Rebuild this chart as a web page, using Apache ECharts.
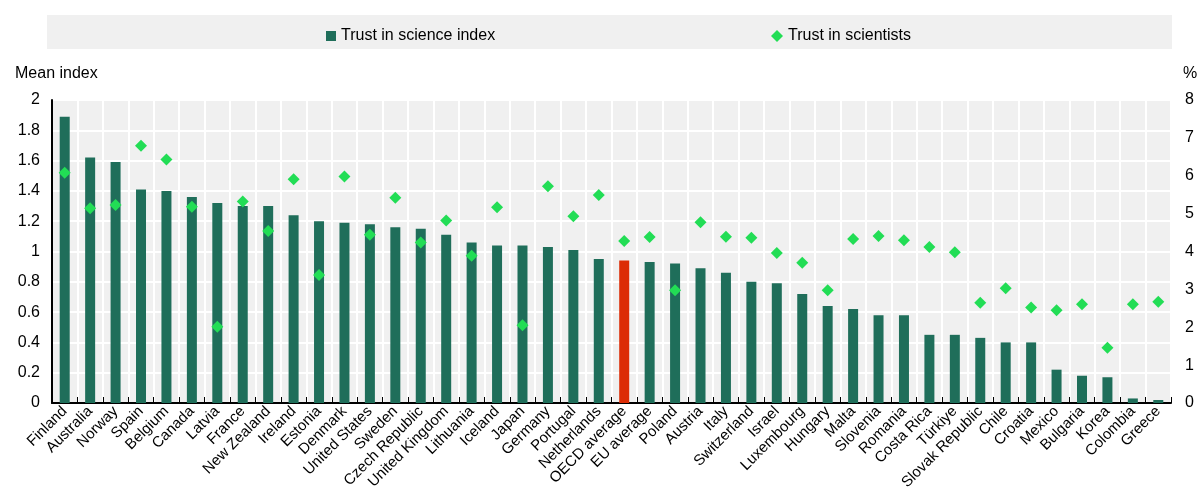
<!DOCTYPE html>
<html>
<head>
<meta charset="utf-8">
<script src="https://cdn.jsdelivr.net/npm/echarts@6/dist/echarts.min.js"></script>
<style>
  html, body { margin: 0; padding: 0; background: #fff; }
  #chart { width: 1199px; height: 501px; }
</style>
</head>
<body>
<div id="chart"></div>
<script>
// categories (countries)
var countries = ['Finland','Australia','Norway','Spain','Belgium','Canada','Latvia','France','New Zealand','Ireland',
  'Estonia','Denmark','United States','Sweden','Czech Republic','United Kingdom','Lithuania','Iceland','Japan','Germany',
  'Portugal','Netherlands','OECD average','EU average','Poland','Austria','Italy','Switzerland','Israel','Luxembourg',
  'Hungary','Malta','Slovenia','Romania','Costa Rica','Türkiye','Slovak Republic','Chile','Croatia','Mexico',
  'Bulgaria','Korea','Colombia','Greece'];
// Trust in science index (left axis, mean index)
var scienceIndex = [1.89,1.62,1.59,1.41,1.40,1.36,1.32,1.30,1.30,1.24,
  1.20,1.19,1.18,1.16,1.15,1.11,1.06,1.04,1.04,1.03,
  1.01,0.95,0.94,0.93,0.92,0.89,0.86,0.80,0.79,0.72,
  0.64,0.62,0.58,0.58,0.45,0.45,0.43,0.40,0.40,0.22,
  0.18,0.17,0.03,0.02];
// Trust in scientists (right axis, %)
var scientists = [6.08,5.14,5.23,6.79,6.43,5.18,2.01,5.32,4.54,5.91,
  3.38,5.98,4.44,5.42,4.24,4.82,3.89,5.17,2.05,5.72,
  4.93,5.49,4.28,4.38,2.98,4.77,4.39,4.36,3.96,3.70,
  2.98,4.33,4.41,4.30,4.12,3.98,2.65,3.03,2.52,2.45,
  2.61,1.46,2.61,2.67];

var barColor = '#1f6e5a';
var hiColor = '#dc2c05';
var dotColor = '#22dd55';

var barData = scienceIndex.map(function (v, i) {
  if (countries[i] === 'OECD average') {
    return { value: v, itemStyle: { color: hiColor } };
  }
  return v;
});

var chart = echarts.init(document.getElementById('chart'));
var option = {
  animation: false,
  textStyle: { fontFamily: 'Liberation Sans, Arial, sans-serif' },
  graphic: [
    { type: 'rect', left: 47, top: 15, shape: { width: 1125, height: 34 }, style: { fill: '#f0f0f0' }, z: -1 },
    { type: 'text', left: 15, top: 66, style: { text: 'Mean index', fontSize: 16, fill: '#000', fontFamily: 'Liberation Sans, Arial, sans-serif' } },
    { type: 'text', left: 1183, top: 66, style: { text: '%', fontSize: 16, fill: '#000', fontFamily: 'Liberation Sans, Arial, sans-serif' } }
  ],
  legend: [
    {
      data: [{ name: 'Trust in science index', icon: 'rect' }],
      left: 321, top: 23, itemWidth: 10, itemHeight: 10, itemGap: 6,
      textStyle: { fontSize: 16, color: '#000' }
    },
    {
      data: [{ name: 'Trust in scientists', icon: 'diamond' }],
      left: 766, top: 23, itemWidth: 12, itemHeight: 12, itemGap: 6,
      textStyle: { fontSize: 16, color: '#000' }
    }
  ],
  grid: {
    left: 52, right: 28, top: 100, bottom: 98,
    show: true, backgroundColor: '#f0f0f0', borderWidth: 0
  },
  xAxis: {
    type: 'category',
    data: countries,
    axisLine: { lineStyle: { color: '#000', width: 2 } },
    axisTick: { show: true, inside: true, length: 6, lineStyle: { color: '#000' } },
    axisLabel: { interval: 0, rotate: 45, fontSize: 15, color: '#000', margin: 6 },
    splitLine: { show: true, lineStyle: { color: '#fff', width: 2 } }
  },
  yAxis: [
    {
      type: 'value', min: 0, max: 2, interval: 0.2,
      axisLine: { show: true, lineStyle: { color: '#000', width: 2 } },
      axisTick: { show: false },
      axisLabel: { fontSize: 16, color: '#000', margin: 12 },
      splitLine: { show: true, lineStyle: { color: '#fff', width: 2 } }
    },
    {
      type: 'value', min: 0, max: 8, interval: 1,
      axisLine: { show: false },
      axisTick: { show: false },
      axisLabel: { fontSize: 16, color: '#000', margin: 14 },
      splitLine: { show: false }
    }
  ],
  series: [
    {
      name: 'Trust in science index',
      type: 'bar',
      data: barData,
      barWidth: 10,
      itemStyle: { color: barColor },
      z: 2
    },
    {
      name: 'Trust in scientists',
      type: 'scatter',
      yAxisIndex: 1,
      data: scientists,
      symbol: 'diamond',
      symbolSize: 12,
      itemStyle: { color: dotColor, opacity: 1 },
      z: 3
    }
  ]
};
chart.setOption(option);
</script>
</body>
</html>
